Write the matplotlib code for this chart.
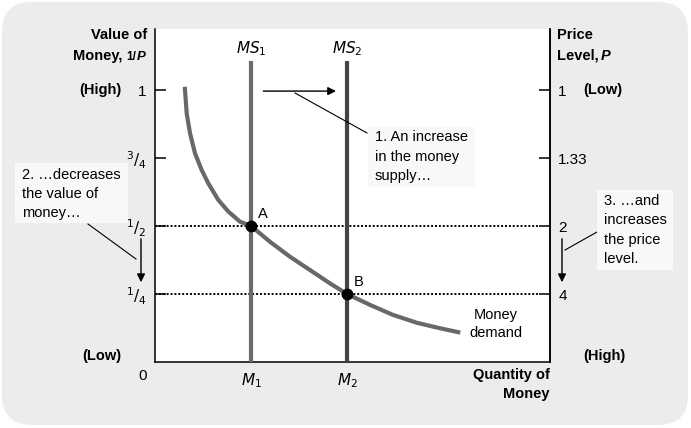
import matplotlib
matplotlib.use('Agg')
import matplotlib.pyplot as plt
from matplotlib.patches import FancyBboxPatch, Rectangle
from matplotlib.lines import Line2D
from matplotlib.transforms import IdentityTransform

plt.rcParams['font.family'] = ['Liberation Sans', 'DejaVu Sans']

# Money demand curve (quantity, value of money)
demand_q = [0.31, 0.33, 0.365, 0.417, 0.486, 0.555, 0.659, 0.764, 0.885, 1.00,
            1.198, 1.406, 1.615, 1.823, 2.00, 2.24, 2.48, 2.73, 2.97, 3.18]
demand_v = [1.012, 0.914, 0.841, 0.767, 0.706, 0.657, 0.596, 0.553, 0.516, 0.50,
            0.442, 0.387, 0.338, 0.289, 0.25, 0.210, 0.173, 0.144, 0.124, 0.108]

# Money supply levels and equilibrium values
supply_q = [1, 2]
supply_labels = ['$MS_1$', '$MS_2$']
supply_colors = ['#6a6a6a', '#444444']
supply_top = 1.107
eq_value = [0.5, 0.25]
eq_names = ['A', 'B']

# Axis ticks
value_ticks = [1, 0.75, 0.5, 0.25]
value_labels = ['1', r'$^{3}/_{4}$', r'$^{1}/_{2}$', r'$^{1}/_{4}$']
price_labels = ['1', '1.33', '2', '4']
qty_labels = ['$M_1$', '$M_2$']

W, H = 691, 428
fig = plt.figure(figsize=(W / 100, H / 100), dpi=100)
fig.patch.set_facecolor('white')

# Gray rounded panel behind everything
bg = FancyBboxPatch((2, 3), 686, 423, boxstyle='round,pad=0,rounding_size=30',
                    facecolor='#ececec', edgecolor='none', transform=IdentityTransform(), zorder=-10)
fig.patches.append(bg)


def fx(px):
    return px / W


def fy(py):
    return 1 - py / H


ax = fig.add_axes([fx(155), 66 / H, 395 / W, 333 / H])
ax.set_facecolor('white')
ax.set_xlim(0, 395 / 96)
ax.set_ylim(0, 333 / 272)
ax.spines['top'].set_visible(False)
for s in ['left', 'right', 'bottom']:
    ax.spines[s].set_linewidth(1.1)

ax.set_yticks(value_ticks)
ax.set_yticklabels(value_labels, fontsize=11)
ax.tick_params(axis='y', direction='in', length=8, width=1.1, pad=6)
ax.set_xticks(supply_q)
ax.set_xticklabels(qty_labels, fontsize=11)
ax.tick_params(axis='x', length=0, pad=7)

ax2 = ax.twinx()
ax2.set_ylim(ax.get_ylim())
ax2.set_yticks(value_ticks)
ax2.set_yticklabels(price_labels, fontsize=11)
ax2.tick_params(axis='y', direction='in', length=8, width=1.1, pad=6)
for s in ['top', 'left', 'bottom']:
    ax2.spines[s].set_visible(False)
ax2.spines['right'].set_linewidth(1.1)

# supply lines
for q, lab, c in zip(supply_q, supply_labels, supply_colors):
    ax.plot([q, q], [0, supply_top], color=c, lw=3, solid_capstyle='butt', zorder=3)
    ax.text(q, supply_top + 0.045, lab, ha='center', va='center', fontsize=11)

# demand curve
ax.plot(demand_q, demand_v, color='#686868', lw=3, solid_capstyle='butt',
        solid_joinstyle='round', zorder=4)

# dotted equilibrium lines and points
for q, v, n in zip(supply_q, eq_value, eq_names):
    ax.plot([0, ax.get_xlim()[1] - 12 / 96], [v, v], color='black', lw=1.4,
            linestyle=(0, (1, 1)), zorder=2)
    ax.plot(q, v, 'o', color='black', markersize=7.5, zorder=5)
    ax.text(q + 0.07, v + 0.045, n, fontsize=10.5, ha='left', va='center')

ax.text(3.55, 0.172, 'Money', ha='center', va='center', fontsize=10.5)
ax.text(3.55, 0.106, 'demand', ha='center', va='center', fontsize=10.5)

# shift arrow
ax.annotate('', xy=(1.915, 0.996), xytext=(1.10, 0.996),
            arrowprops=dict(arrowstyle='-|>', color='black', lw=1, mutation_scale=12))

# axis titles
bold = dict(fontweight='bold', fontsize=10.5)
fig.text(fx(147), fy(35), 'Value of', ha='right', va='center', **bold)
fig.text(fx(122), fy(56), 'Money,', ha='right', va='center', **bold)
fig.text(fx(126), fy(57), '1/', ha='left', va='center', fontweight='bold', fontsize=8.5)
fig.text(fx(137), fy(57), 'P', ha='left', va='center', fontweight='bold', fontstyle='italic', fontsize=9.5)
fig.text(fx(121), fy(90), '(High)', ha='right', va='center', **bold)
fig.text(fx(121), fy(356), '(Low)', ha='right', va='center', **bold)
fig.text(fx(557), fy(35), 'Price', ha='left', va='center', **bold)
fig.text(fx(557), fy(56), 'Level,', ha='left', va='center', **bold)
fig.text(fx(601), fy(56), 'P', ha='left', va='center', fontweight='bold', fontstyle='italic', fontsize=10.5)
fig.text(fx(583), fy(90), '(Low)', ha='left', va='center', **bold)
fig.text(fx(583), fy(356), '(High)', ha='left', va='center', **bold)
fig.text(fx(143), fy(376), '0', ha='center', va='center', fontsize=11)
fig.text(fx(550), fy(375), 'Quantity of', ha='right', va='center', **bold)
fig.text(fx(550), fy(394), 'Money', ha='right', va='center', **bold)


def note_box(x0, y0, x1, y1, tx, lines, ys):
    fig.patches.append(Rectangle((fx(x0), fy(y1)), (x1 - x0) / W, (y1 - y0) / H,
                                 transform=fig.transFigure, facecolor='#f8f8f8',
                                 edgecolor='none', zorder=6))
    for t, yy in zip(lines, ys):
        fig.text(fx(tx), fy(yy), t, ha='left', va='center', fontsize=10.5, zorder=7)


def leader(p0, p1):
    fig.add_artist(Line2D([fx(p0[0]), fx(p1[0])], [fy(p0[1]), fy(p1[1])],
                          transform=fig.transFigure, color='black', lw=0.8, zorder=6))


def down_arrow(x, y0, y1):
    ax.annotate('', xy=(fx(x), fy(y1)), xytext=(fx(x), fy(y0)),
                xycoords='figure fraction', textcoords='figure fraction',
                arrowprops=dict(arrowstyle='-|>', color='black', lw=1, mutation_scale=12),
                annotation_clip=False)


note_box(368, 127, 475, 187, 375,
         ['1. An increase', 'in the money', 'supply\u2026'], [137, 157, 176])
leader((295, 93), (367, 133))

note_box(15, 163, 128, 223, 22,
         ['2. \u2026decreases', 'the value of', 'money\u2026'], [175, 194, 213])
leader((88, 224), (136, 259))
down_arrow(141, 236, 285)

note_box(597, 190, 673, 270, 604,
         ['3. \u2026and', 'increases', 'the price', 'level.'], [201, 220, 240, 259])
leader((565, 250), (597, 232))
down_arrow(562, 236, 285)

plt.savefig('out.png', dpi=100, facecolor=fig.get_facecolor())
